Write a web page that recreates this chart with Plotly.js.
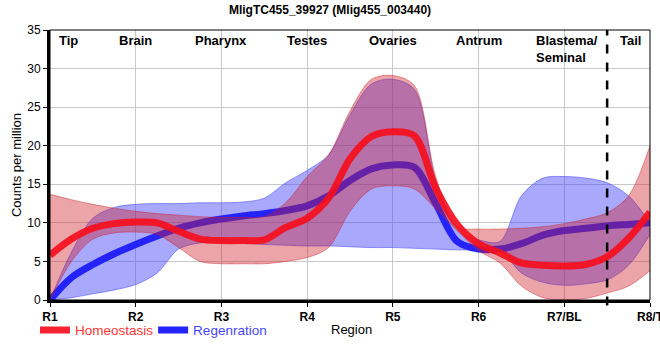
<!DOCTYPE html>
<html><head><meta charset="utf-8">
<script src="https://cdn.plot.ly/plotly-3.0.1.min.js"></script>
<style>body{margin:0;background:#fff;}</style>
</head><body><div id="chart" style="width:660px;height:360px;"></div>
<script>
// Region tick labels and region names
const regions = ['R1','R2','R3','R4','R5','R6','R7/BL','R8/T'];
const regionNames = ['Tip','Brain','Pharynx','Testes','Ovaries','Antrum','Blastema/<br>Seminal','Tail'];
const regionPos = [1,2,3,4,5,6,7,8];

// sample positions along the body (region index scale)
const xs = [1,1.25,1.5,1.75,2,2.25,2.5,2.75,3,3.25,3.5,3.75,4,4.25,4.5,4.75,5,5.25,5.5,5.75,6,6.25,6.5,6.75,7,7.25,7.5,7.75,8];

// Homeostasis (red)
const homeoMean  = [5.8,7.9,9.3,9.9,10.1,10.0,8.9,7.9,7.7,7.7,7.8,9.4,10.6,13.2,18.3,21.2,21.8,21.3,14.5,9.8,7.3,6.1,4.8,4.5,4.4,4.6,5.6,8.0,11.4];
const homeoUpper = [13.7,13.0,12.4,11.9,11.5,11.2,11.0,10.8,10.7,10.7,10.8,12.6,16.0,18.8,24.5,28.6,29.1,27.8,16.0,9.5,9.2,9.2,9.3,9.5,9.9,10.5,11.3,13.5,20.0];
const homeoLower = [0,5.0,7.9,8.7,8.8,8.5,6.8,5.0,4.7,4.7,4.7,5.0,5.5,6.8,11.5,14.4,14.8,14.4,11.8,9.0,6.4,4.8,1.8,0.3,0,0.2,0.9,1.8,3.8];

// Regeneration (blue)
const regenMean  = [0,2.9,4.6,6.0,7.2,8.3,9.3,10.0,10.5,10.9,11.2,11.6,12.2,13.5,15.5,17.0,17.5,17.2,12.5,7.6,6.6,6.6,7.3,8.4,9.0,9.3,9.6,9.8,10.0];
const regenUpper = [0,6.2,10.6,12.0,12.4,12.5,12.5,12.6,12.6,12.7,13.2,15.2,16.8,18.8,24.0,28.0,28.6,27.3,15.5,9.0,7.8,7.6,13.5,15.8,16.0,15.8,15.2,13.5,10.0];
const regenLower = [0,0.3,0.8,1.3,2.0,3.5,6.6,7.4,7.5,7.4,7.2,7.1,7.0,7.0,6.9,6.8,6.8,6.7,6.6,6.5,6.5,6.4,3.5,2.3,1.9,2.1,2.6,4.5,8.5];

const RED_FILL = 'rgba(205,30,40,0.40)';
const RED_EDGE = 'rgba(205,30,40,0.45)';
const BLUE_FILL = 'rgba(70,70,250,0.47)';
const BLUE_EDGE = 'rgba(70,70,250,0.55)';

const sp = {shape:'spline', smoothing:0.9};
const traces = [
  {x:xs, y:regenLower, type:'scatter', mode:'lines', line:Object.assign({color:BLUE_EDGE,width:1},sp), showlegend:false, hoverinfo:'skip'},
  {x:xs, y:regenUpper, type:'scatter', mode:'lines', fill:'tonexty', fillcolor:BLUE_FILL, line:Object.assign({color:BLUE_EDGE,width:1},sp), showlegend:false, hoverinfo:'skip'},
  {x:xs, y:regenMean, type:'scatter', mode:'lines', name:'Regenration', legend:'legend2', line:Object.assign({color:'rgb(35,35,250)',width:7},sp)},
  {x:xs, y:homeoLower, type:'scatter', mode:'lines', line:Object.assign({color:RED_EDGE,width:1},sp), showlegend:false, hoverinfo:'skip'},
  {x:xs, y:homeoUpper, type:'scatter', mode:'lines', fill:'tonexty', fillcolor:RED_FILL, line:Object.assign({color:RED_EDGE,width:1},sp), showlegend:false, hoverinfo:'skip'},
  {x:xs, y:homeoMean, type:'scatter', mode:'lines', name:'Homeostasis', legend:'legend', opacity:0.92, line:Object.assign({color:'rgb(245,15,30)',width:7},sp)}
];

// region label x positions (slight offsets for end labels)
const labelX = regionPos.map((p,i)=> i===0 ? 1.22 : (i===6 ? 6.65 : (i===7 ? 7.77 : p)));
const annotations = regionNames.map((n,i)=>({
  x: labelX[i], y: 35, xref:'x', yref:'y', text:'<b>'+n+'</b>', showarrow:false,
  xanchor: i===6 ? 'left' : 'center', yanchor:'top', align:'left', yshift:-1,
  font:{size:13, color:'#000', family:'Liberation Sans, Arial, sans-serif'}
}));
// x axis title, placed on the legend row as in the original
annotations.push({x:0.503, y:-0.111, xref:'paper', yref:'paper', text:'Region', showarrow:false,
  xanchor:'center', yanchor:'middle', font:{size:13, color:'#000'}});

const layout = {
  width:660, height:360,
  margin:{l:50, r:10, t:30, b:60},
  paper_bgcolor:'#fff', plot_bgcolor:'#fff',
  font:{family:'Liberation Sans, Arial, sans-serif', size:12, color:'#000'},
  title:{text:'<b>MligTC455_39927 (Mlig455_003440)</b>', x:0.5, xanchor:'center', y:0.972, yanchor:'middle', font:{size:12, color:'#000'}},
  xaxis:{
    range:[1,8], tickvals:regionPos, ticktext:regions.map(r=>'<b>'+r+'</b>'),
    ticklabeloverflow:'allow',
    showgrid:true, gridcolor:'#c8c8c8', gridwidth:1, zeroline:false,
    showline:true, linecolor:'#000', linewidth:3, ticks:'outside', ticklen:4, tickcolor:'#000', tickwidth:1,
    tickfont:{size:12}
  },
  yaxis:{
    range:[0,35], tickvals:[0,5,10,15,20,25,30,35],
    showgrid:true, gridcolor:'#c8c8c8', gridwidth:1, zeroline:false,
    showline:true, linecolor:'#000', linewidth:3, ticks:'outside', ticklen:4, tickcolor:'#000', tickwidth:1,
    tickfont:{size:12}, title:{text:'Counts per million', standoff:3, font:{size:13}}
  },
  shapes:[
    {type:'rect', xref:'paper', yref:'paper', x0:0, x1:1, y0:0, y1:1, line:{color:'#000', width:1}, layer:'above'},
    {type:'line', xref:'x', yref:'paper', x0:7.5, x1:7.5, y0:-0.02, y1:1, line:{color:'#000', width:2.5, dash:'dash'}, layer:'above'}
  ],
  annotations:annotations,
  showlegend:true,
  legend:{orientation:'h', xref:'container', yref:'container', x:0.053, y:0.083, xanchor:'left', yanchor:'middle', font:{size:13.5, color:'#ff3535'}, bgcolor:'rgba(0,0,0,0)'},
  legend2:{orientation:'h', xref:'container', yref:'container', x:0.232, y:0.083, xanchor:'left', yanchor:'middle', font:{size:13.5, color:'#4545ff'}, bgcolor:'rgba(0,0,0,0)'}
};

Plotly.newPlot('chart', traces, layout, {displayModeBar:false, staticPlot:true});
</script>
</body></html>
